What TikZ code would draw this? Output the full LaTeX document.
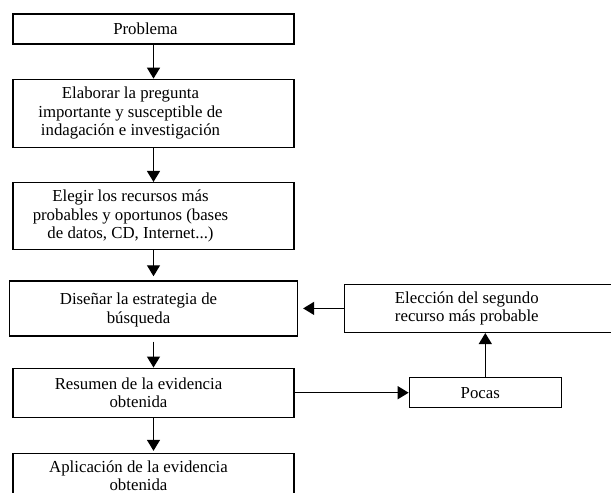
\documentclass[tikz,border=0pt]{standalone}
\usepackage{fontspec}
\setmainfont{Liberation Serif}
\usetikzlibrary{arrows.meta, positioning}

\begin{document}
\begin{tikzpicture}[
  x=1pt, y=1pt,
  every node/.style={font=\fontsize{16.8}{18.5}\selectfont},
  box/.style={draw, line width=1.3pt, minimum width=281pt, inner sep=0pt},
  txt/.style={align=center, inner sep=0pt},
  arr/.style={-{Triangle[length=11pt, width=13pt]}, line width=1.3pt}
]
  \path[use as bounding box, clip] (0,0) rectangle (611,-493);

  % main column
  \node[box, minimum height=30pt] (prob) at (153.5,-29) {};
  \node[box, minimum height=68pt, below=34pt of prob] (preg) {};
  \node[box, minimum height=67pt, below=34pt of preg] (recur) {};
  \node[box, minimum width=288pt, minimum height=55pt, below=30pt of recur] (disen) {};
  \node[box, minimum height=49pt, below=31pt of disen] (resum) {};
  \node[box, minimum height=50pt, below=35pt of resum] (aplic) {};

  % side loop
  \node[box, minimum width=280pt, minimum height=48pt, right=46pt of disen] (elec) {};
  \node[box, minimum width=152pt, minimum height=30pt, right=114pt of resum] (pocas) {};

  % texts
  \node[txt, xshift=-8pt] (probt) at (prob) {Problema};
  \node[txt, xshift=-23pt] (pregt) at (preg) {Elaborar la pregunta\\importante y susceptible de\\indagación e investigación};
  \node[txt, xshift=-23pt] (recurt) at (recur) {Elegir los recursos más\\probables y oportunos (bases\\de datos, CD, Internet...)};
  \node[txt, xshift=-15pt, yshift=-1.5pt] (disent) at (disen) {Diseñar la estrategia de\\búsqueda};
  \node[txt, xshift=-15pt] (resumt) at (resum) {Resumen de la evidencia\\obtenida};
  \node[txt, xshift=-15pt, yshift=3pt] (aplict) at (aplic) {Aplicación de la evidencia\\obtenida};
  \node[txt, xshift=-18pt] (elect) at (elec) {Elección del segundo\\recurso más probable};
  \node[txt, xshift=-5pt] (pocast) at (pocas) {Pocas};

  \draw[arr] (prob.south) -- (preg.north);
  \draw[arr] (preg.south) -- (recur.north);
  \draw[arr, shorten >=4pt] (recur.south) -- (disen.north);
  \draw[arr, shorten <=5pt] (disen.south) -- (resum.north);
  \draw[arr, shorten >=2pt] (resum.south) -- (aplic.north);
  \draw[arr] (resum.east) -- (pocas.west);
  \draw[arr] (pocas.north) -- (pocas.north |- elec.south);
  \draw[arr, shorten >=5pt] (elec.west) -- (disen.east);
\end{tikzpicture}
\end{document}
